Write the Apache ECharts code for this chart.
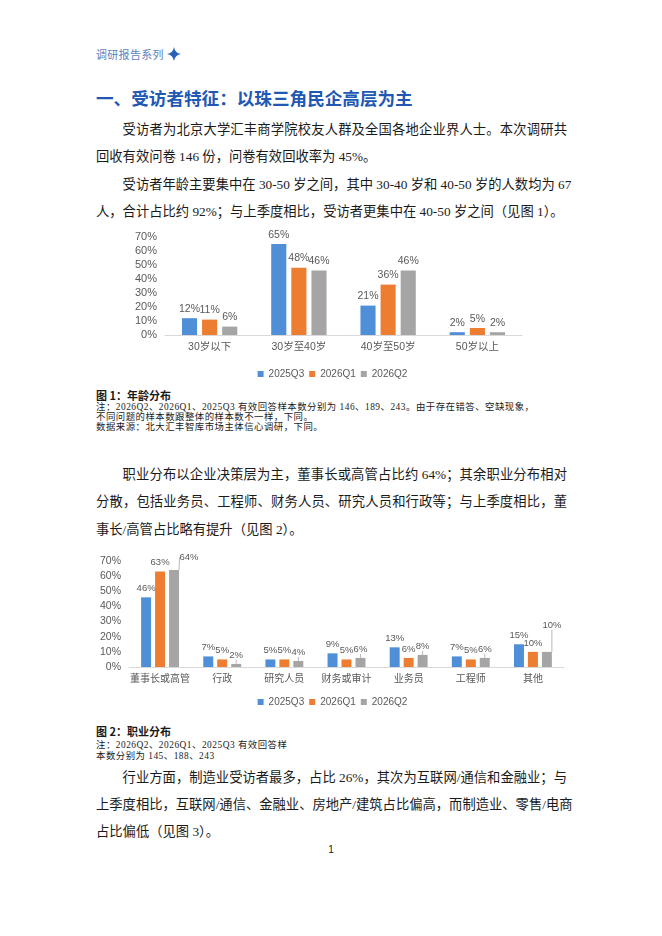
<!DOCTYPE html>
<html>
<head>
<meta charset="utf-8">
<title>调研报告系列</title>
<script src="https://cdn.jsdelivr.net/npm/echarts@6/dist/echarts.min.js"></script>
<style>
    html, body { margin: 0; padding: 0; background: #fff; }
    .page {
        position: relative; width: 662px; height: 936px; overflow: hidden;
        font-family: "Liberation Serif", "Noto Sans CJK SC", serif; color: #1a1a1a;
    }
    .ln { position: absolute; left: 96px; }
    .head { font-family: "Noto Sans CJK SC", sans-serif; font-size: 11px; line-height: 14px; color: #5b82bb; letter-spacing: 0.3px; top: 47px; }
    .star { position: absolute; left: 167px; top: 47px; }
    .title { font-family: "Noto Sans CJK SC", sans-serif; font-weight: bold; font-size: 17.6px; line-height: 24px; color: #2158b3; top: 86px; }
    .txt { font-size: 13.3px; line-height: 20px; width: 471px; white-space: nowrap; }
    .just { text-align: justify; text-align-last: justify; }
    .ind { text-indent: 26.6px; }
    .cap { font-family: "Noto Sans CJK SC", sans-serif; font-weight: bold; font-size: 11px; line-height: 14px; }
    .note { font-size: 9.4px; line-height: 10px; letter-spacing: 0.5px; white-space: nowrap; }
    .pno { position: absolute; left: 0; width: 662px; text-align: center; top: 843px; font-family: "Liberation Sans", sans-serif; font-size: 10px; line-height: 14px; }
    .chart { position: absolute; left: 95px; width: 475px; }
</style>
</head>
<body>
<div class="page">
    <div class="ln head">调研报告系列</div>
    <svg class="star" width="14" height="14" viewBox="-7 -7 14 14"><path d="M0,-7 Q1,-1 7,0 Q1,1 0,7 Q-1,1 -7,0 Q-1,-1 0,-7 Z" fill="#2a62b8"/></svg>
    <div class="ln title">一、受访者特征：以珠三角民企高层为主</div>

    <div class="ln txt just ind" style="top:120px">受访者为北京大学汇丰商学院校友人群及全国各地企业界人士。本次调研共</div>
    <div class="ln txt" style="top:147px">回收有效问卷 146 份，问卷有效回收率为 45%。</div>
    <div class="ln txt just ind" style="top:175px">受访者年龄主要集中在 30-50 岁之间，其中 30-40 岁和 40-50 岁的人数均为 67</div>
    <div class="ln txt" style="top:202px">人，合计占比约 92%；与上季度相比，受访者更集中在 40-50 岁之间（见图 1）。</div>

    <div id="age-chart" class="chart" style="top:225px;height:160px"></div>

    <div class="ln cap" style="top:388px">图 1：年龄分布</div>
    <div class="ln note" style="top:402px">注：2026Q2、2026Q1、2025Q3 有效回答样本数分别为 146、189、243。由于存在错答、空缺现象，</div>
    <div class="ln note" style="top:412px">不同问题的样本数跟整体的样本数不一样，下同。</div>
    <div class="ln note" style="top:422px">数据来源：北大汇丰智库市场主体信心调研，下同。</div>

    <div class="ln txt just ind" style="top:465px">职业分布以企业决策层为主，董事长或高管占比约 64%；其余职业分布相对</div>
    <div class="ln txt just" style="top:492px">分散，包括业务员、工程师、财务人员、研究人员和行政等；与上季度相比，董</div>
    <div class="ln txt" style="top:520px">事长/高管占比略有提升（见图 2）。</div>

    <div id="job-chart" class="chart" style="top:548px;height:165px"></div>

    <div class="ln cap" style="top:724px">图 2：职业分布</div>
    <div class="ln note" style="top:740px">注：2026Q2、2026Q1、2025Q3 有效回答样</div>
    <div class="ln note" style="top:751px">本数分别为 145、188、243</div>

    <div class="ln txt just ind" style="top:768px">行业方面，制造业受访者最多，占比 26%，其次为互联网/通信和金融业；与</div>
    <div class="ln txt just" style="top:795px">上季度相比，互联网/通信、金融业、房地产/建筑占比偏高，而制造业、零售/电商</div>
    <div class="ln txt" style="top:822px">占比偏低（见图 3）。</div>

    <div class="pno">1</div>
</div>
<script>
// 图1 年龄分布
var ageCategories = ['30岁以下', '30岁至40岁', '40岁至50岁', '50岁以上'];
var age2025Q3 = [12, 65, 21, 2];
var age2026Q1 = [11, 48, 36, 5];
var age2026Q2 = [6, 46, 46, 2];

// 图2 职业分布
var jobCategories = ['董事长或高管', '行政', '研究人员', '财务或审计', '业务员', '工程师', '其他'];
var job2025Q3 = [46, 7, 5, 9, 13, 7, 15];
var job2026Q1 = [63, 5, 5, 5, 6, 5, 10];
var job2026Q2 = [64, 2, 4, 6, 8, 6, 10];

var seriesNames = ['2025Q3', '2026Q1', '2026Q2'];
var yTicks = [0, 70, 10]; // min, max, interval

var reportPage = {
    colors: ['#4f8fd8', '#ed7d31', '#a5a5a5'],
    font: '"Liberation Sans", "Noto Sans CJK SC", sans-serif',

    init: function () {
        this.drawAgeChart();
        this.drawJobChart();
    },
    buildSeries: function (values, idx, labelSize, extra) {
        var s = {
            name: seriesNames[idx],
            type: 'bar',
            data: values,
            itemStyle: { color: this.colors[idx] },
            label: {
                show: true,
                position: 'top',
                distance: 4,
                formatter: '{c}%',
                color: '#595959',
                fontSize: labelSize,
                fontFamily: this.font
            }
        };
        if (extra) {
            for (var k in extra) s[k] = extra[k];
        }
        return s;
    },
    baseOption: function (cats, g, sizes) {
        var font = this.font;
        return {
            animation: false,
            legend: {
                data: seriesNames,
                left: 'center',
                top: g.legendTop,
                icon: 'rect',
                itemWidth: 6,
                itemHeight: 6,
                itemGap: 5,
                textStyle: { color: '#595959', fontSize: 10, fontFamily: font }
            },
            grid: { left: g.left, right: g.right, top: g.top, bottom: g.bottom, containLabel: false },
            xAxis: {
                type: 'category',
                data: cats,
                axisTick: { show: false },
                axisLine: { lineStyle: { color: '#d9d9d9' } },
                axisLabel: { interval: 0, color: '#595959', fontSize: sizes.x, margin: g.xMargin, fontFamily: font }
            },
            yAxis: {
                type: 'value',
                min: yTicks[0],
                max: yTicks[1],
                interval: yTicks[2],
                splitLine: { show: false },
                axisLine: { show: false },
                axisTick: { show: false },
                axisLabel: { formatter: '{value}%', color: '#595959', fontSize: sizes.y, margin: 8, fontFamily: font }
            }
        };
    },
    drawAgeChart: function () {
        var myChart = echarts.init(document.getElementById('age-chart'));
        var option = this.baseOption(ageCategories,
            { left: 70, right: 48, top: 12, bottom: 50, legendTop: 139, xMargin: 7 },
            { x: 10.5, y: 11 });
        var gap = { barGap: '33%', barCategoryGap: '38%' };
        option.series = [
            this.buildSeries(age2025Q3, 0, 10.5, gap),
            this.buildSeries(age2026Q1, 1, 10.5, gap),
            this.buildSeries(age2026Q2, 2, 10.5, gap)
        ];
        myChart.setOption(option);
    },
    drawJobChart: function () {
        var myChart = echarts.init(document.getElementById('job-chart'));
        var option = this.baseOption(jobCategories,
            { left: 34, right: 6, top: 13, bottom: 46, legendTop: 144, xMargin: 7 },
            { x: 10, y: 10.5 });
        var gap = { barGap: '40%', barCategoryGap: '39%' };
        // 灰色柱子两个标签移开，带引导线
        var grayExtra = {
            barGap: '40%',
            barCategoryGap: '39%',
            labelLine: { show: true, lineStyle: { color: '#a6a6a6', width: 0.8 } },
            labelLayout: function (p) {
                if (p.dataIndex === 0) return { dx: 15, dy: -4 };
                if (p.dataIndex === 6) return { dx: 5, dy: -18 };
                return {};
            }
        };
        option.series = [
            this.buildSeries(job2025Q3, 0, 9.5, gap),
            this.buildSeries(job2026Q1, 1, 9.5, gap),
            this.buildSeries(job2026Q2, 2, 9.5, grayExtra)
        ];
        myChart.setOption(option);
    }
};

reportPage.init();
</script>
</body>
</html>
